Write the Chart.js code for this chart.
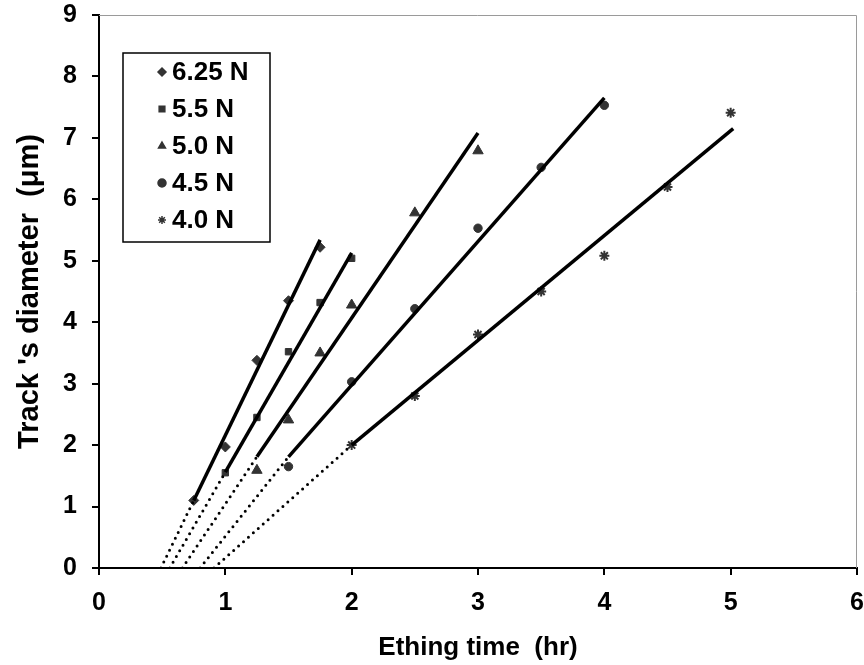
<!DOCTYPE html>
<html>
<head>
<meta charset="utf-8">
<script src="https://cdn.jsdelivr.net/npm/chart.js@4.4.1/dist/chart.umd.min.js"></script>
<style>
  html, body { margin: 0; padding: 0; background: #fff; }
  canvas { display: block; }
</style>
</head>
<body>
<canvas id="chartTrack" width="864" height="665"></canvas>
<script>
// Fuerzas (leyenda)
const forces = ['6.25 N', '5.5 N', '5.0 N', '4.5 N', '4.0 N'];
const pointStyles = ['rectRot', 'rect', 'triangle', 'circle', 'star'];

// Tiempos de grabado (hr) y diametros medidos (um)
const time625 = [0.75, 1.0, 1.25, 1.5, 1.75];
const diam625 = [1.1, 1.97, 3.38, 4.35, 5.22];
const time55 = [1.0, 1.25, 1.5, 1.75, 2.0];
const diam55 = [1.55, 2.45, 3.52, 4.32, 5.04];
const time50 = [1.25, 1.5, 1.75, 2.0, 2.5, 3.0];
const diam50 = [1.59, 2.41, 3.5, 4.28, 5.78, 6.79];
const time45 = [1.5, 2.0, 2.5, 3.0, 3.5, 4.0];
const diam45 = [1.65, 3.03, 4.22, 5.53, 6.52, 7.53];
const time40 = [2.0, 2.5, 3.0, 3.5, 4.0, 4.5, 5.0];
const diam40 = [2.0, 2.8, 3.8, 4.5, 5.08, 6.2, 7.41];

// Rectas de ajuste: corte con el eje x, inicio y fin del tramo continuo
const fitZeroX = [0.49, 0.56, 0.66, 0.80, 0.91];
const fitStartX = [0.75, 1.0, 1.25, 1.5, 2.0];
const fitStartY = [1.1, 1.56, 1.81, 1.81, 2.0];
const fitEndX = [1.75, 2.0, 3.0, 4.0, 5.02];
const fitEndY = [5.34, 5.13, 7.08, 7.65, 7.15];

const xTicks = [0, 1, 2, 3, 4, 5, 6];
const yTicks = [0, 1, 2, 3, 4, 5, 6, 7, 8, 9];

const allTimes = [time625, time55, time50, time45, time40];
const allDiams = [diam625, diam55, diam50, diam45, diam40];

const markerColor = '#333333';
const fontFamily = "'Liberation Sans', Arial, sans-serif";
const markerRadius = { rectRot: 5, rect: 4.5, triangle: 6, circle: 4.2, star: 5 };

const datasets = [];
forces.forEach(function (label, i) {
    datasets.push({
        label: label,
        data: allTimes[i].map((t, j) => ({ x: t, y: allDiams[i][j] })),
        showLine: false,
        pointStyle: pointStyles[i],
        pointRadius: markerRadius[pointStyles[i]],
        pointBackgroundColor: markerColor,
        pointBorderColor: markerColor,
        pointBorderWidth: pointStyles[i] === 'star' ? 2 : 1,
        order: 1
    });
    // tramo continuo
    datasets.push({
        label: '',
        data: [{ x: fitStartX[i], y: fitStartY[i] }, { x: fitEndX[i], y: fitEndY[i] }],
        showLine: true,
        borderColor: '#000',
        borderWidth: 3.5,
        pointRadius: 0,
        order: 0
    });
    // tramo punteado hasta y = 0
    datasets.push({
        label: '',
        data: [{ x: fitZeroX[i], y: 0 }, { x: fitStartX[i], y: fitStartY[i] }],
        showLine: true,
        borderColor: '#000',
        borderWidth: 3,
        borderDash: [0, 6.6],
        borderCapStyle: 'round',
        pointRadius: 0,
        order: 0
    });
});

// Marco gris superior y derecho del area de trazado
const plotFrame = {
    id: 'plotFrame',
    beforeDatasetsDraw(chart) {
        const { ctx, chartArea: a } = chart;
        ctx.save();
        ctx.strokeStyle = '#9a9a9a';
        ctx.lineWidth = 1;
        ctx.beginPath();
        ctx.moveTo(a.left, a.top + 0.5);
        ctx.lineTo(a.right - 0.5, a.top + 0.5);
        ctx.lineTo(a.right - 0.5, a.bottom);
        ctx.stroke();
        ctx.restore();
    }
};

// Leyenda dentro del grafico
const boxLegend = {
    id: 'boxLegend',
    afterDraw(chart) {
        const ctx = chart.ctx;
        ctx.save();
        ctx.fillStyle = '#fff';
        ctx.fillRect(123, 53, 147, 189);
        ctx.strokeStyle = '#000';
        ctx.lineWidth = 1.5;
        ctx.strokeRect(123, 53, 147, 189);
        ctx.font = 'bold 26px ' + fontFamily;
        ctx.textBaseline = 'middle';
        forces.forEach(function (label, i) {
            const y = 72 + i * 37;
            ctx.fillStyle = markerColor;
            ctx.strokeStyle = markerColor;
            Chart.helpers.drawPoint(ctx, {
                pointStyle: pointStyles[i],
                radius: 4,
                rotation: 0,
                borderWidth: pointStyles[i] === 'star' ? 1.5 : 1
            }, 162, y);
            ctx.fillStyle = '#000';
            ctx.fillText(label, 172, y + 1);
        });
        ctx.restore();
    }
};

function noPadding(scale) {
    scale.paddingTop = 0;
    scale.paddingBottom = 0;
    scale.paddingLeft = 0;
    scale.paddingRight = 0;
}

const ctxTrack = document.getElementById('chartTrack').getContext('2d');
const chartTrack = new Chart(ctxTrack, {
    type: 'scatter',
    data: { datasets: datasets },
    options: {
        responsive: false,
        animation: false,
        layout: { padding: { top: 15, right: 5, left: 0, bottom: 0 } },
        plugins: {
            legend: { display: false },
            tooltip: { enabled: false }
        },
        scales: {
            x: {
                type: 'linear',
                min: 0,
                max: 6,
                afterBuildTicks: function (scale) { scale.ticks = xTicks.map(v => ({ value: v })); },
                afterFit: function (scale) { scale.height = 97; noPadding(scale); },
                ticks: {
                    color: '#000',
                    padding: 13,
                    maxRotation: 0,
                    font: { family: fontFamily, size: 25, weight: 'bold' }
                },
                grid: { drawOnChartArea: false, drawTicks: true, tickLength: 7, color: '#000', lineWidth: 2 },
                border: { color: '#000', width: 2 },
                title: {
                    display: true,
                    text: 'Ething time  (hr)',
                    color: '#000',
                    padding: { bottom: 2 },
                    font: { family: fontFamily, size: 26, weight: 'bold' }
                }
            },
            y: {
                type: 'linear',
                min: 0,
                max: 9,
                afterBuildTicks: function (scale) { scale.ticks = yTicks.map(v => ({ value: v })); },
                afterFit: function (scale) { scale.width = 99; noPadding(scale); },
                ticks: {
                    color: '#000',
                    padding: 15,
                    font: { family: fontFamily, size: 25, weight: 'bold' }
                },
                grid: { drawOnChartArea: false, drawTicks: true, tickLength: 7, color: '#000', lineWidth: 2 },
                border: { color: '#000', width: 2 },
                title: {
                    display: true,
                    text: "Track 's diameter  (\u03bcm)",
                    color: '#000',
                    padding: { top: 13 },
                    font: { family: fontFamily, size: 29, weight: 'bold' }
                }
            }
        }
    },
    plugins: [plotFrame, boxLegend]
});
</script>
</body>
</html>
